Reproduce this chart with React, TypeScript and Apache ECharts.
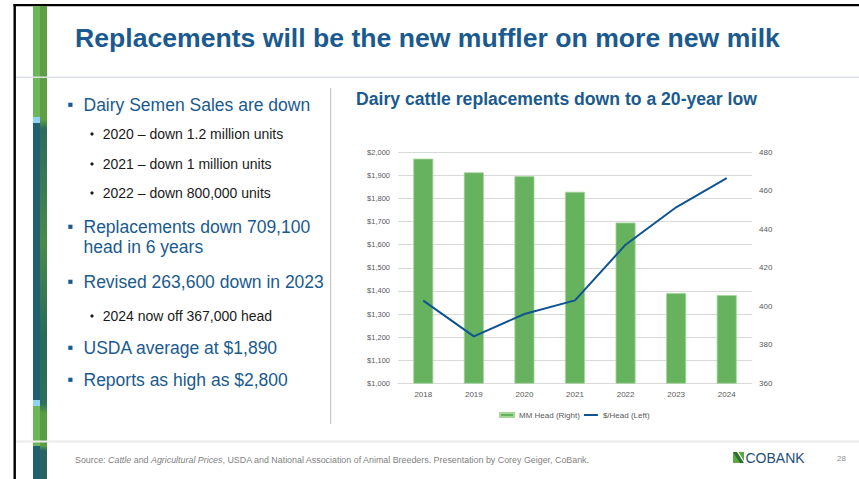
import React, { useEffect, useRef } from "react";
import * as echarts from "echarts";

const years = ["2018", "2019", "2020", "2021", "2022", "2023", "2024"];
const headMM = [476.7, 469.6, 467.6, 459.5, 443.5, 406.9, 405.8];
const dollarsPerHead = [1358, 1203, 1300, 1359, 1600, 1762, 1888];

const slideTitle = "Replacements will be the new muffler on more new milk";
const chartTitle = "Dairy cattle replacements down to a 20-year low";
const bulletTexts = [
  "Dairy Semen Sales are down",
  "2020 – down 1.2 million units",
  "2021 – down 1 million units",
  "2022 – down 800,000 units",
  "Replacements down 709,100",
  "head in 6 years",
  "Revised 263,600 down in 2023",
  "2024 now off 367,000 head",
  "USDA average at $1,890",
  "Reports as high as $2,800",
];
const bulletLevels = [1, 2, 2, 2, 1, 0, 1, 2, 1, 1];
const seriesNames = ["MM Head (Right)", "$/Head (Left)"];
const pageNumber = "28";

const FONT = "Liberation Sans, Arial, Helvetica, sans-serif";
const BLUE = "#1a5a8e";

export default function App() {
  const ref = useRef<HTMLDivElement>(null);
  useEffect(() => {
    if (!ref.current) return;
    const chart = echarts.init(ref.current, null, { renderer: "svg" });

    const bulletYs = [105, 134, 164, 193, 227, 247, 282, 316, 348, 380];
    const bulletGraphics: any[] = [];
    bulletTexts.forEach((t, i) => {
      const lvl = bulletLevels[i];
      const y = bulletYs[i];
      if (lvl === 2) {
        bulletGraphics.push({
          type: "circle", shape: { cx: 92, cy: y, r: 1.6 },
          style: { fill: "#1a1a1a" },
        });
        bulletGraphics.push({
          type: "text", x: 102.7, y,
          style: { text: t, fill: "#1a1a1a", font: `14px ${FONT}`, verticalAlign: "middle" },
        });
      } else {
        if (lvl === 1) {
          bulletGraphics.push({
            type: "rect", shape: { x: 68.3, y: y - 2.3, width: 4.2, height: 4.2 },
            style: { fill: BLUE },
          });
        }
        bulletGraphics.push({
          type: "text", x: 83.5, y,
          style: { text: t, fill: BLUE, font: `17.5px ${FONT}`, verticalAlign: "middle" },
        });
      }
    });

    const stripX = 33;
    const graphics: any[] = [
      // frame
      { type: "rect", shape: { x: 13.5, y: 4, width: 846, height: 2.2 }, style: { fill: "#000" } },
      { type: "rect", shape: { x: 13.5, y: 4, width: 2.4, height: 475 }, style: { fill: "#000" } },
      // left strip
      { type: "rect", shape: { x: stripX, y: 6, width: 7, height: 111 }, style: { fill: "#6cb65a" } },
      { type: "rect", shape: { x: stripX, y: 117, width: 7, height: 6 }, style: { fill: "#8fd3f2" } },
      { type: "rect", shape: { x: stripX, y: 123, width: 7, height: 277 }, style: { fill: "#1f5f6f" } },
      { type: "rect", shape: { x: stripX, y: 400, width: 7, height: 6 }, style: { fill: "#8fd3f2" } },
      { type: "rect", shape: { x: stripX, y: 406, width: 7, height: 40 }, style: { fill: "#6cb65a" } },
      { type: "rect", shape: { x: stripX, y: 446, width: 7, height: 33 }, style: { fill: "#1f5f6f" } },
      {
        type: "rect", shape: { x: stripX + 7, y: 6, width: 7, height: 473 },
        style: {
          fill: new echarts.graphic.LinearGradient(0, 0, 0, 1, [
            { offset: 0, color: "#5f9e45" },
            { offset: 0.24, color: "#5f9e45" },
            { offset: 0.26, color: "#2d6a5e" },
            { offset: 0.5, color: "#4a8a48" },
            { offset: 0.7, color: "#2a6a5c" },
            { offset: 0.84, color: "#2e6e5a" },
            { offset: 0.86, color: "#5a9c44" },
            { offset: 0.93, color: "#5a9c44" },
            { offset: 0.94, color: "#2a6462" },
            { offset: 1, color: "#2a6462" },
          ]),
        },
      },
      // title
      {
        type: "text", x: 75, y: 38,
        style: { text: slideTitle, fill: BLUE, font: `bold 26.6px ${FONT}`, verticalAlign: "middle" },
      },
      { type: "rect", shape: { x: 16, y: 76.5, width: 843, height: 1.5 }, style: { fill: "#dfe1e8" } },
      // divider
      { type: "rect", shape: { x: 330, y: 88, width: 1.2, height: 336 }, style: { fill: "#c8c8c8" } },
      // chart title
      {
        type: "text", x: 356, y: 99,
        style: { text: chartTitle, fill: BLUE, font: `bold 17.6px ${FONT}`, verticalAlign: "middle" },
      },
      // footer
      { type: "rect", shape: { x: 16, y: 440.5, width: 843, height: 2 }, style: { fill: "#ececec" } },
      {
        type: "text", x: 75, y: 460,
        style: {
          text: "{n|Source: }{i|Cattle}{n| and }{i|Agricultural Prices}{n|, USDA and National Association of Animal Breeders. Presentation by Corey Geiger, CoBank.}",
          verticalAlign: "middle",
          rich: {
            n: { fill: "#7f7f7f", font: `8.9px ${FONT}` },
            i: { fill: "#7f7f7f", font: `italic 8.9px ${FONT}` },
          },
        },
      },
      // logo
      { type: "rect", shape: { x: 733, y: 452, width: 11, height: 11 }, style: { fill: "#5aa843" } },
      { type: "polygon", shape: { points: [[733, 452], [737, 452], [744, 463], [740, 463]] }, style: { fill: "#2f6e2c" } },
      { type: "polygon", shape: { points: [[737, 452], [738.5, 452], [744, 461], [744, 463]] }, style: { fill: "#ffffff" } },
      {
        type: "text", x: 745.5, y: 457.5,
        style: { text: "COBANK", fill: "#1f4e79", font: `14px ${FONT}`, verticalAlign: "middle" },
      },
      {
        type: "text", x: 837, y: 458,
        style: { text: pageNumber, fill: "#8c8c8c", font: `8px ${FONT}`, verticalAlign: "middle" },
      },
      ...bulletGraphics,
    ];

    const axisLabelStyle = { color: "#595959", fontSize: 7.5, fontFamily: FONT };

    chart.setOption({
      animation: false,
      backgroundColor: "#ffffff",
      graphic: { elements: graphics },
      grid: { left: 398, right: 107, top: 152.3, bottom: 95.7, containLabel: false },
      legend: {
        data: [
          { name: seriesNames[0], icon: "rect" },
          { name: seriesNames[1], icon: "path://M0,0h14v2h-14z" },
        ],
        top: 406,
        left: 494,
        itemWidth: 14,
        itemHeight: 4,
        itemGap: 4,
        textStyle: { color: "#595959", fontSize: 8, fontFamily: FONT },
      },
      xAxis: {
        type: "category",
        data: years,
        axisTick: { show: false },
        axisLine: { lineStyle: { color: "#d9d9d9", width: 1 } },
        axisLabel: { ...axisLabelStyle, fontSize: 8, margin: 7 },
      },
      yAxis: [
        {
          type: "value",
          min: 1000,
          max: 2000,
          interval: 100,
          position: "left",
          axisLine: { show: false },
          axisTick: { show: false },
          splitLine: { lineStyle: { color: "#d9d9d9", width: 1 } },
          axisLabel: {
            ...axisLabelStyle,
            margin: 8,
            formatter: (v: number) => "$" + v.toLocaleString("en-US"),
          },
        },
        {
          type: "value",
          min: 360,
          max: 480,
          interval: 20,
          position: "right",
          axisLine: { show: false },
          axisTick: { show: false },
          splitLine: { show: false },
          axisLabel: { ...axisLabelStyle, fontSize: 8, margin: 7 },
        },
      ],
      series: [
        {
          name: seriesNames[0],
          type: "bar",
          yAxisIndex: 1,
          data: headMM,
          barWidth: 20,
          itemStyle: { color: "#66b25f", borderColor: "#a5d69a", borderWidth: 0.8 },
          z: 2,
        },
        {
          name: seriesNames[1],
          type: "line",
          yAxisIndex: 0,
          data: dollarsPerHead,
          symbol: "none",
          lineStyle: { color: "#0f5490", width: 2 },
          itemStyle: { color: "#0f5490" },
          z: 3,
        },
      ],
    });
    return () => chart.dispose();
  }, []);
  return (
    <div
      ref={ref}
      style={{ position: "absolute", left: 0, top: 0, width: 859, height: 479 }}
    />
  );
}
